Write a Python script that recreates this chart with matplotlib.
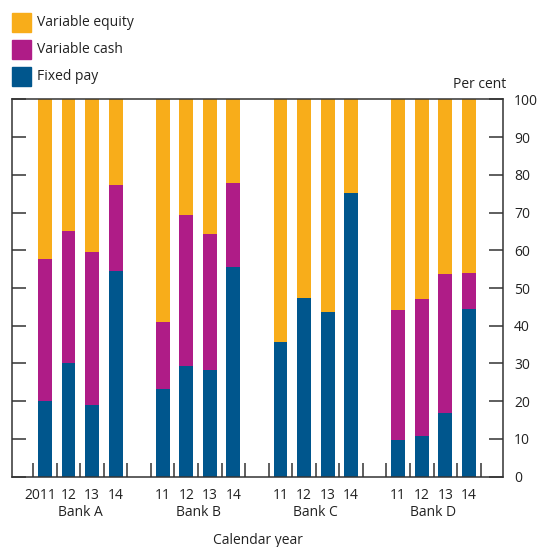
import matplotlib
matplotlib.use("Agg")
import matplotlib.pyplot as plt
from matplotlib.patches import Rectangle
import matplotlib.transforms as mtransforms
import numpy as np

plt.rcParams['font.family'] = ['Open Sans', 'DejaVu Sans']

banks = ["Bank A", "Bank B", "Bank C", "Bank D"]
year_labels = ["2011", "12", "13", "14", "11", "12", "13", "14",
               "11", "12", "13", "14", "11", "12", "13", "14"]
fixed_pay = [20.1, 30.2, 18.9, 54.4,
             23.3, 29.2, 28.4, 55.6,
             35.7, 47.3, 43.6, 75.1,
             9.6, 10.9, 16.8, 44.5]
variable_cash = [37.6, 34.9, 40.6, 22.8,
                 17.6, 40.1, 35.8, 22.2,
                 0, 0, 0, 0,
                 34.5, 36.2, 37.0, 9.5]
variable_equity = [100 - f - c for f, c in zip(fixed_pay, variable_cash)]

c_equity = "#F8AD1A"
c_cash = "#AF1C87"
c_fixed = "#00568D"

fig = plt.figure(figsize=(5.39, 5.47), dpi=100)
ax = fig.add_axes([12/539, 1-476.7/547, (503-12)/539, (476.7-99.3)/547])

pos = []
for g in range(4):
    for k in range(4):
        pos.append(g * 5 + k)
pos = np.array(pos, dtype=float)

w = 0.59
fp = np.array(fixed_pay)
vc = np.array(variable_cash)
ve = np.array(variable_equity)
ax.bar(pos, fp, w, color=c_fixed, linewidth=0)
ax.bar(pos, vc, w, bottom=fp, color=c_cash, linewidth=0)
ax.bar(pos, ve, w, bottom=fp + vc, color=c_equity, linewidth=0)

ax.set_xlim(-1.4, 19.45)
ax.set_ylim(0, 100)

spine_col = "#333333"
for s in ax.spines.values():
    s.set_color(spine_col)
    s.set_linewidth(1.1)

ax.yaxis.tick_right()
ax.set_yticks(np.arange(0, 101, 10))
ax.tick_params(axis='y', which='major', direction='in', length=10, width=1.1,
               color=spine_col, left=True, right=True, labelleft=False,
               labelright=True, labelsize=10, pad=8, labelcolor="#222222")

ax.set_xticks(pos)
ax.set_xticklabels(year_labels)
ax.tick_params(axis='x', which='major', length=0, labelsize=10, pad=8,
               labelcolor="#222222")
minor = []
for g in range(4):
    minor.extend([g * 5 + k - 0.5 for k in range(5)])
ax.set_xticks(minor, minor=True)
ax.tick_params(axis='x', which='minor', direction='in', length=10, width=1.1,
               color=spine_col)

first = ax.get_xticklabels()[0]
first.set_transform(first.get_transform() +
                    mtransforms.ScaledTranslation(-4.5/100, 0, fig.dpi_scale_trans))

trans = mtransforms.blended_transform_factory(ax.transData, fig.transFigure)
for g, b in enumerate(banks):
    ax.text(g * 5 + 1.5, 1 - 512/547, b, transform=trans, ha='center',
            va='center', fontsize=10, color="#222222")

fig.text((12 + 503) / 2 / 539, 1 - 540/547, "Calendar year", ha='center',
         va='center', fontsize=10, color="#222222")
fig.text(480/539, 1 - 85/547, "Per cent", ha='center', va='center',
         fontsize=10, color="#222222")

leg = [("Variable equity", c_equity), ("Variable cash", c_cash),
       ("Fixed pay", c_fixed)]
for i, (lab, col) in enumerate(leg):
    y0 = 13 + i * 27
    fig.patches.append(Rectangle((12/539, 1 - (y0 + 19)/547), 19/539, 19/547,
                                 transform=fig.transFigure, color=col,
                                 figure=fig))
    fig.text(37/539, 1 - (y0 + 9.5)/547, lab, ha='left', va='center',
             fontsize=10, color="#222222")

fig.savefig("out.png", dpi=100)
